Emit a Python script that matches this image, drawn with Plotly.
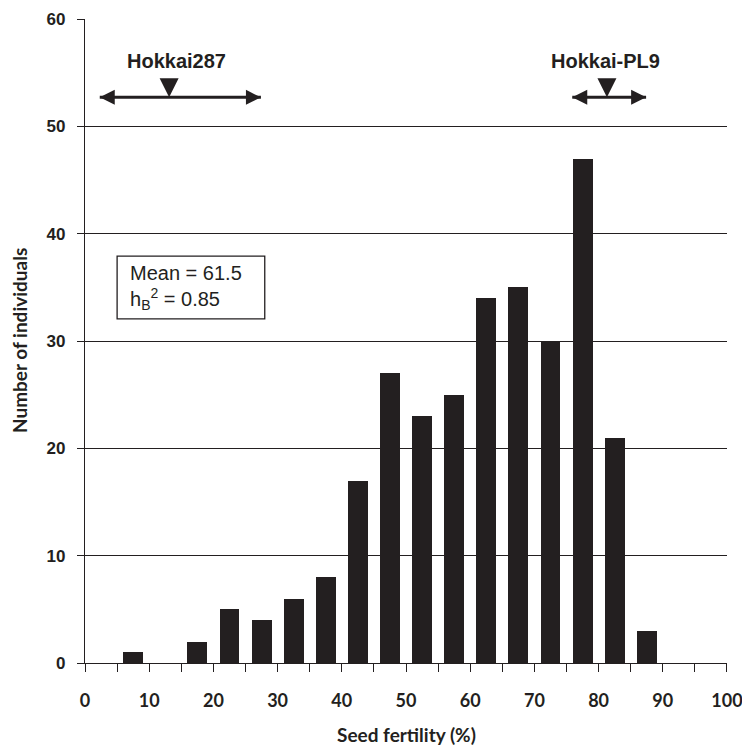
import plotly.graph_objects as go

# ---- data ----
bin_centers = [7.5, 12.5, 17.5, 22.5, 27.5, 32.5, 37.5, 42.5, 47.5, 52.5,
               57.5, 62.5, 67.5, 72.5, 77.5, 82.5, 87.5, 92.5, 97.5]
counts = [1, 0, 2, 5, 4, 6, 8, 17, 27, 23, 25, 34, 35, 30, 47, 21, 3, 0, 0]

x_tick_vals = list(range(0, 101, 5))
x_tick_text = [str(v) if v % 10 == 0 else "" for v in x_tick_vals]
y_tick_vals = [0, 10, 20, 30, 40, 50, 60]

parent_names = ["Hokkai287", "Hokkai-PL9"]
parent_lo = [2.3, 75.9]
parent_hi = [27.4, 87.4]
parent_mean = [13.1, 81.3]
parent_label_x = [14.2, 81.0]
arrow_y = 52.7
label_y = 56.1

stats_text = "Mean = 61.5<br>h<sub>B</sub><sup>2</sup> = 0.85"
stats_box_x = [5.0, 28.0]
stats_box_y = [32.06, 37.9]

DARK = "#231f20"

fig = go.Figure()
fig.add_trace(go.Bar(
    x=bin_centers, y=counts, width=3.1,
    marker=dict(color=DARK, line=dict(width=0)),
    showlegend=False, hoverinfo="skip"))

for name, lo, hi, mu, lx in zip(parent_names, parent_lo, parent_hi, parent_mean, parent_label_x):
    fig.add_trace(go.Scatter(
        x=[lo, hi], y=[arrow_y, arrow_y], mode="lines",
        line=dict(color=DARK, width=3), showlegend=False, hoverinfo="skip"))
    fig.add_trace(go.Scatter(
        x=[lo, hi], y=[arrow_y, arrow_y], mode="markers",
        marker=dict(symbol=["arrow-left", "arrow-right"], size=15, color=DARK,
                    line=dict(width=0)),
        showlegend=False, hoverinfo="skip"))
    fig.add_trace(go.Scatter(
        x=[mu], y=[arrow_y], mode="markers",
        marker=dict(symbol="arrow-down", size=19, color=DARK, line=dict(width=0)),
        showlegend=False, hoverinfo="skip"))
    fig.add_annotation(x=lx, y=label_y, text=name, showarrow=False,
                       xref="x", yref="y",
                       font=dict(family="Liberation Sans, Arial", size=20,
                                 color=DARK, weight="bold"))

fig.add_shape(type="rect", xref="x", yref="y",
              x0=stats_box_x[0], x1=stats_box_x[1],
              y0=stats_box_y[0], y1=stats_box_y[1],
              line=dict(color=DARK, width=1.3), fillcolor="white", layer="above")
fig.add_annotation(x=stats_box_x[0] + 1.7, y=sum(stats_box_y) / 2,
                   xref="x", yref="y", xanchor="left", yanchor="middle",
                   text=stats_text, showarrow=False, align="left",
                   font=dict(family="Liberation Sans, Arial", size=20, color=DARK))

fig.add_annotation(xref="paper", yref="paper", x=-66/642, y=(663 - 341) / 644,
                   xanchor="center", yanchor="middle",
                   text="Number of individuals", textangle=-90, showarrow=False,
                   font=dict(family="Lato", size=19, color=DARK, weight="bold"))
fig.add_annotation(xref="paper", yref="paper", x=0.5, y=-71/644,
                   xanchor="center", yanchor="middle",
                   text="Seed fertility (%)", showarrow=False,
                   font=dict(family="Lato", size=19, color=DARK, weight="bold"))

fig.update_layout(
    width=742, height=746,
    margin=dict(l=85, r=15, t=19, b=83, autoexpand=False),
    plot_bgcolor="white", paper_bgcolor="white",
    bargap=0,
    xaxis=dict(range=[-0.001, 100.001], tickmode="array", tickvals=x_tick_vals,
               ticktext=x_tick_text, ticks="outside", ticklen=8, tickwidth=1.3,
               tickcolor=DARK, showline=True, linecolor=DARK, linewidth=1.3,
               showgrid=False, zeroline=False, ticklabelstandoff=13,
               ticklabeloverflow="allow",
               tickfont=dict(family="Lato", size=18, color=DARK, weight="bold")),
    yaxis=dict(range=[0, 60.001], tickmode="array", tickvals=y_tick_vals,
               ticks="outside", ticklen=7, tickwidth=1.3, tickcolor=DARK,
               showline=True, linecolor=DARK, linewidth=1.3,
               showgrid=True, gridcolor=DARK, gridwidth=1.3, zeroline=False,
               ticklabelstandoff=8,
               tickfont=dict(family="Liberation Sans, Arial", size=17, color=DARK,
                             weight="bold")),
)

fig.write_html("out.html")
